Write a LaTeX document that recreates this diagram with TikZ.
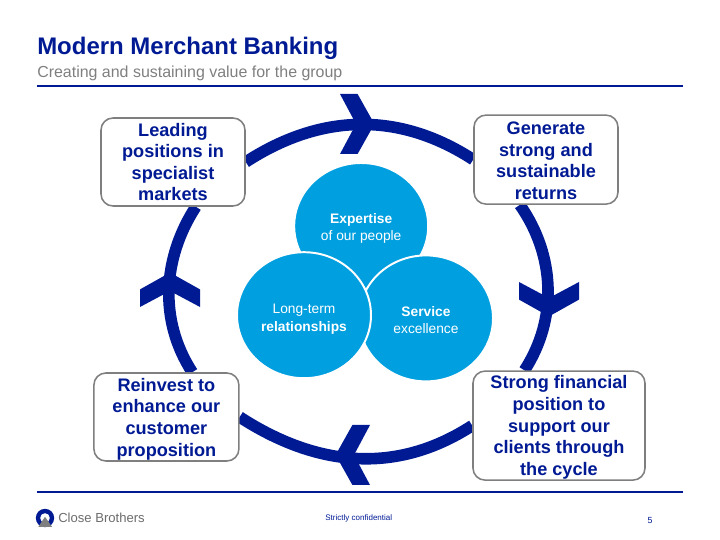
\documentclass[tikz,border=0pt]{standalone}
\usepackage{fontspec}
\setmainfont{Liberation Sans}
\usetikzlibrary{shapes.geometric,backgrounds}
\definecolor{navy}{HTML}{001A94}
\definecolor{sky}{HTML}{009FDF}
\definecolor{stone}{HTML}{7F7F7F}
\newcommand{\topgap}[1]{\rule{0pt}{#1pt}}
\tikzset{
  goal/.style={draw=stone, line width=1.1pt, rounded corners=0.3cm, fill=white, align=center,
    text=navy, font=\fontsize{12.9}{15.4}\selectfont\bfseries, inner sep=0pt},
  bubble/.style={ellipse, draw=white, line width=1.4pt, fill=sky, text=white, align=center,
    minimum width=3.35cm, minimum height=3.15cm, inner sep=0pt, font=\fontsize{9.8}{12.2}\selectfont},
  ring/.style={navy, line width=0.29cm},
  rule/.style={navy, line width=1.6pt}
}
\begin{document}
\begin{tikzpicture}
\useasboundingbox (0,0) rectangle (18,13.5);

% heading
\node[anchor=west, inner sep=0pt, text=navy, font=\fontsize{17.05}{20}\selectfont\bfseries] (title) at (0.925,12.3) {Modern Merchant Banking};
\node[anchor=west, inner sep=0pt, text=stone, font=\fontsize{11.35}{14}\selectfont] (subtitle) at (0.925,11.67) {Creating and sustaining value for the group};
\coordinate (ruleA) at (0.925,11.35);
\coordinate (ruleB) at (17.08,11.35);
\draw[rule] (ruleA) -- (ruleB);

% goals round the cycle
\node[goal, minimum width=3.6cm, minimum height=2.2cm] (lead) at (4.325,9.45) {Leading\\positions in\\specialist\\markets};
\node[goal, minimum width=3.6cm, minimum height=2.225cm] (gen) at (13.65,9.51) {\topgap{10.5}Generate\\strong and\\sustainable\\returns};
\node[goal, minimum width=4.3cm, minimum height=2.725cm] (strong) at (13.975,2.86) {\topgap{12}Strong financial\\position to\\support our\\clients through\\the cycle};
\node[goal, minimum width=3.625cm, minimum height=2.2cm] (rein) at (4.16,3.075) {\topgap{12}Reinvest to\\enhance our\\customer\\proposition};

% cycle behind the goals
\begin{scope}[on background layer]
\draw[ring] (lead.east) to[out=33,in=147] (gen.west);
\draw[ring] (gen.240) to[out=-55,in=57,looseness=0.95] (strong.122);
\draw[ring] (strong.west) to[out=213,in=-33] (rein.east);
\draw[ring] (rein.60) to[out=123,in=237,looseness=0.95] (lead.-63);
\end{scope}

% arrowheads
\foreach \x/\y/\a in {9.3/10.4/0, 13.725/5.65/-90, 8.45/2.125/180, 4.25/6.625/90}
  \fill[navy, shift={(\x,\y)}, rotate=\a] (0.06,0) -- (-0.36,0.75) -- (-0.8,0.75) -- (-0.4,0) -- (-0.8,-0.75) -- (-0.36,-0.75) -- cycle;

% three circles
\node[bubble] (expertise) at (9.03,7.85) {\topgap{10}\textbf{Expertise}\\of our people};
\node[bubble] (service) at (10.65,5.54) {\topgap{10}\textbf{Service}\\excellence};
\node[bubble] (longterm) at (7.6,5.62) {\topgap{12.5}Long-term\\\textbf{relationships}};

% footer
\coordinate (footA) at (0.925,1.2);
\coordinate (footB) at (17.08,1.2);
\draw[rule] (footA) -- (footB);
\fill[navy] (1.125,0.55) circle (0.23);
\fill[white] (1.125,0.55) circle (0.12);
\fill[stone] (0.96,0.33) -- (1.125,0.58) -- (1.3,0.33) -- cycle;
\node[anchor=west, inner sep=0pt, text=stone!85!black, font=\fontsize{9.3}{11}\selectfont] (brand) at (1.45,0.55) {Close Brothers};
\node[inner sep=0pt, text=navy, font=\fontsize{5.7}{8}\selectfont] (strictly) at (8.97,0.53) {Strictly confidential};
\node[inner sep=0pt, text=navy, font=\fontsize{6.3}{8}\selectfont] (page) at (16.25,0.48) {5};
\end{tikzpicture}
\end{document}
